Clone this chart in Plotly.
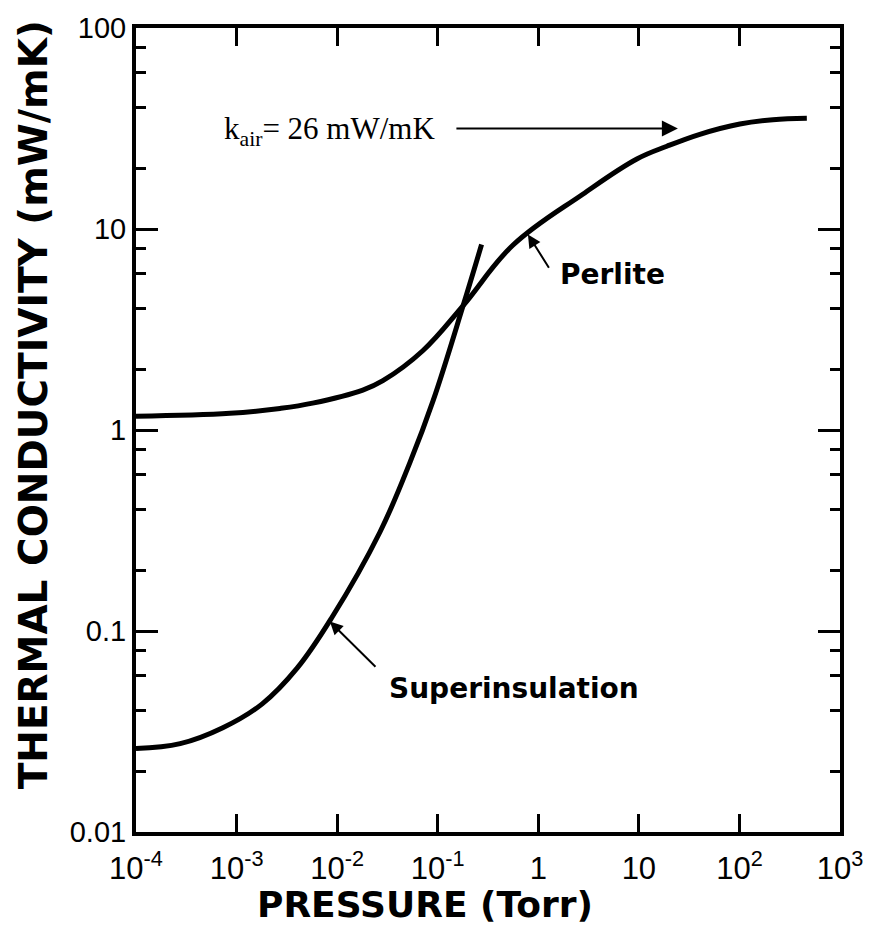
import plotly.graph_objects as go

# ---- data ----
perlite_p = [1e-4, 8.6e-4, 2.7e-3, 5.7e-3, 1.8e-2, 2.85e-2, 7.1e-2, 0.179,
             0.558, 2.77, 9.55, 19.0, 40.4, 101, 215, 468]
perlite_k = [1.17, 1.21, 1.28, 1.36, 1.58, 1.76, 2.48, 4.16,
             8.3, 14.9, 22.3, 25.8, 29.6, 33.3, 35.0, 35.6]

super_p = [1e-4, 2.75e-4, 7.3e-4, 1.8e-3, 4.0e-3, 8.8e-3, 2.66e-2,
           5.3e-2, 9.0e-2, 0.179, 0.273]
super_k = [0.026, 0.0275, 0.033, 0.0434, 0.0653, 0.116, 0.31,
           0.69, 1.40, 4.16, 8.37]

x_tickvals = [1e-4, 1e-3, 1e-2, 1e-1, 1, 10, 100, 1000]
x_ticktext = ["10<sup>-4</sup>", "10<sup>-3</sup>", "10<sup>-2</sup>", "10<sup>-1</sup>",
              "1", "10", "10<sup>2</sup>", "10<sup>3</sup>"]
y_tickvals = [0.01, 0.1, 1, 10, 100]
y_ticktext = ["0.01", "0.1", "1", "10", "100"]
y_minor = [m * d for d in [0.01, 0.1, 1, 10] for m in (2, 4, 6, 8)]

SANS = "DejaVu Sans"
TICKFONT = "Liberation Sans"

fig = go.Figure()
fig.add_trace(go.Scatter(x=perlite_p, y=perlite_k, mode="lines", name="Perlite",
                         line=dict(color="black", width=5, shape="spline", smoothing=1.1),
                         showlegend=False))
fig.add_trace(go.Scatter(x=super_p, y=super_k, mode="lines", name="Superinsulation",
                         line=dict(color="black", width=5, shape="spline", smoothing=1.1),
                         showlegend=False))

fig.update_xaxes(type="log", range=[-4, 3], tickmode="array", tickvals=x_tickvals,
                 ticktext=x_ticktext, ticks="inside", ticklen=18, tickwidth=3,
                 tickcolor="black", showline=True, linewidth=4, linecolor="black",
                 mirror="ticks", showgrid=False, zeroline=False, ticklabelstandoff=6,
                 tickfont=dict(family=TICKFONT, size=31, color="black"))
fig.update_yaxes(type="log", range=[-2, 2], tickmode="array", tickvals=y_tickvals,
                 ticktext=y_ticktext, ticks="inside", ticklen=22, tickwidth=3,
                 tickcolor="black", showline=True, linewidth=4, linecolor="black",
                 mirror="ticks", showgrid=False, zeroline=False,
                 minor=dict(tickmode="array", tickvals=y_minor, ticks="inside",
                            ticklen=10, tickwidth=3, tickcolor="black", showgrid=False),
                 tickfont=dict(family=TICKFONT, size=29, color="black"))

anns = []
# axis titles
anns.append(dict(text="<b>THERMAL CONDUCTIVITY (mW/mK)</b>", xref="paper", yref="paper",
                 x=-0.146, y=0.531, xanchor="center", yanchor="middle", textangle=-90,
                 showarrow=False, font=dict(family=SANS, size=39, color="black")))
anns.append(dict(text="<b>PRESSURE (Torr)</b>", xref="paper", yref="paper",
                 x=0.41, y=-0.090, xanchor="center", yanchor="middle",
                 showarrow=False, font=dict(family=SANS, size=36, color="black")))
# curve labels
anns.append(dict(text="<b>Perlite</b>", x=0.195, y=0.775, xref="x", yref="y",
                 xanchor="left", yanchor="middle", showarrow=False,
                 font=dict(family=SANS, size=28, color="black")))
anns.append(dict(text="<b>Superinsulation</b>", x=-1.505, y=-1.284, xref="x", yref="y",
                 xanchor="left", yanchor="middle", showarrow=False,
                 font=dict(family=SANS, size=28, color="black")))
anns.append(dict(text="k<sub>air</sub>= 26 mW/mK", x=-3.145, y=1.49, xref="x", yref="y",
                 xanchor="left", yanchor="middle", showarrow=False,
                 font=dict(family="Liberation Serif", size=31, color="black")))
# arrows
arrow_common = dict(text="", xref="x", yref="y", axref="x", ayref="y", showarrow=True,
                    arrowcolor="black", arrowhead=2)
anns.append(dict(x=1.388, y=1.50, ax=-0.829, ay=1.50, arrowwidth=2, arrowsize=1.6,
                 **arrow_common))
anns.append(dict(x=-0.103, y=0.973, ax=0.115, ay=0.800, arrowwidth=2, arrowsize=1.3,
                 **arrow_common))
anns.append(dict(x=-2.072, y=-0.953, ax=-1.604, ay=-1.185, arrowwidth=2, arrowsize=1.3,
                 **arrow_common))

fig.update_layout(width=888, height=938, margin=dict(l=136, r=48, t=22, b=106),
                  plot_bgcolor="white", paper_bgcolor="white", annotations=anns)

fig.write_html("out.html")
